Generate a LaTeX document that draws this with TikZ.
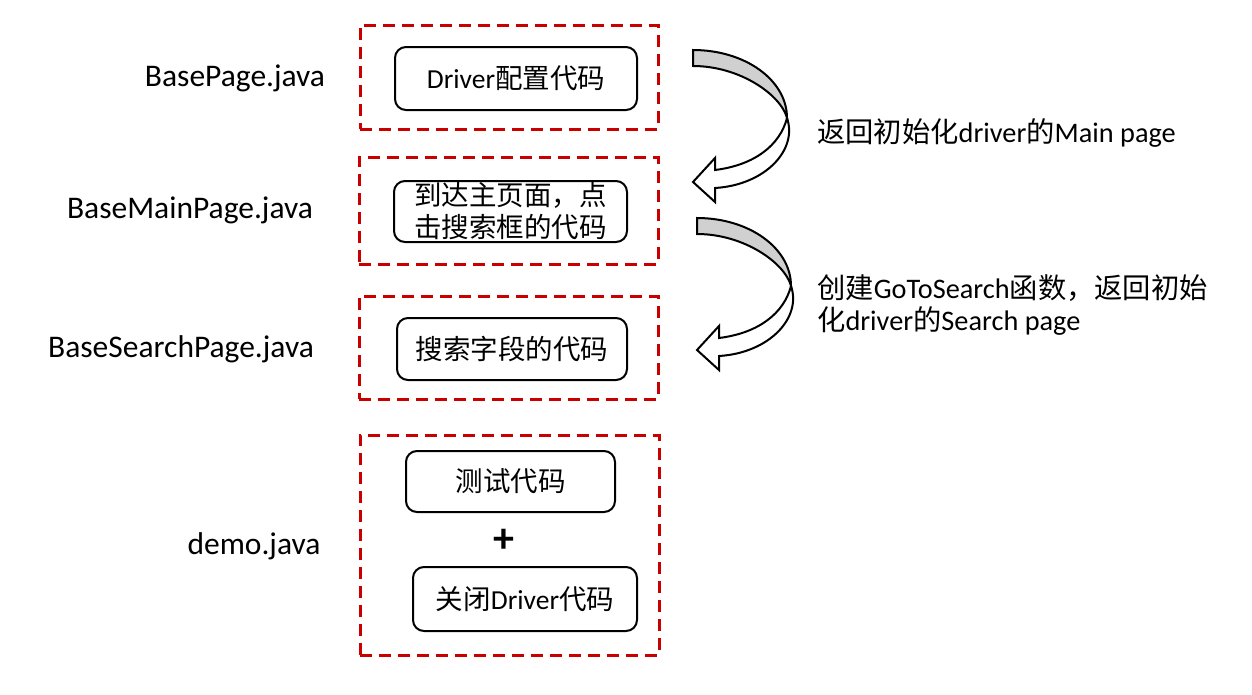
\documentclass[tikz,border=0pt]{standalone}
\usepackage{fontspec}
\setmainfont{Carlito}
\newfontfamily\cjk{Noto Sans CJK SC}
\definecolor{redc}{RGB}{200,0,0}
\definecolor{bandgray}{RGB}{208,208,208}
\tikzset{
  group/.style={draw=redc, line width=3pt, dash pattern=on 12pt off 7pt, inner sep=0pt},
  codebox/.style={draw=black, line width=2pt, rounded corners=11pt, inner sep=0pt, align=center,
    font=\fontsize{27.5}{32}\selectfont},
  lab/.style={font=\fontsize{28.3}{32}\selectfont, inner sep=0pt},
  sidelab/.style={font=\fontsize{31.5}{32}\selectfont, inner sep=0pt},
  arrline/.style={draw=black, line width=2pt, line join=miter},
}
\newcommand{\curvarrow}[2]{%
  \begin{scope}[shift={(#1,#2)}]
    \path[arrline, fill=bandgray] (693,50) .. controls (745,50) and (787,80) .. (787,118)
      .. controls (781,95) and (740,66) .. (693,66) -- cycle;
    \path[arrline, fill=white] (787,118) .. controls (798,150) and (765,185) .. (715,188)
      -- (715,202) -- (693,182) -- (715,158) -- (715,170)
      .. controls (755,165) and (780,145) .. (787,118) -- cycle;
  \end{scope}}
\begin{document}
\begin{tikzpicture}[x=1pt,y=-1pt]
\useasboundingbox (0,0) rectangle (1252,694);
% dashed groups
\node[group, minimum width=298, minimum height=104] (g1) at (509,77) {};
\node[group, minimum width=299, minimum height=107] (g2) at (508.5,210.5) {};
\node[group, minimum width=299, minimum height=103] (g3) at (508.5,347.5) {};
\node[group, minimum width=299, minimum height=220] (g4) at (509.5,545) {};
% code boxes
\node[codebox, minimum width=242, minimum height=63] (b1) at (516,78.5) {Driver{\cjk 配置代码}};
\node[codebox, minimum width=233, minimum height=61] (b2) at (510.5,211.5) {{\cjk 到达主页面，点}\\{\cjk 击搜索框的代码}};
\node[codebox, minimum width=230, minimum height=62] (b3) at (512,349) {{\cjk 搜索字段的代码}};
\node[codebox, minimum width=209, minimum height=61] (b4) at (510.5,481.5) {{\cjk 测试代码}};
\node[inner sep=0pt, font=\fontsize{42}{42}\selectfont\bfseries] (plus) at (504,541) {+};
\node[codebox, minimum width=224, minimum height=64] (b5) at (525,599) {{\cjk 关闭}Driver{\cjk 代码}};
% left labels
\node[sidelab] (l1) at (235,78) {BasePage.java};
\node[sidelab] (l2) at (190,210) {BaseMainPage.java};
\node[sidelab] (l3) at (181,349) {BaseSearchPage.java};
\node[sidelab] (l4) at (254,546) {demo.java};
% right labels
\node[lab, anchor=west] (r1) at (817,133) {{\cjk 返回初始化}driver{\cjk 的}Main page};
\node[lab, anchor=west, align=left] (r2) at (817,305) {{\cjk 创建}GoToSearch{\cjk 函数，返回初始}\\{\cjk 化}driver{\cjk 的}Search page};
% curved arrows
\curvarrow{0}{0}
\curvarrow{4}{168}
\end{tikzpicture}
\end{document}
